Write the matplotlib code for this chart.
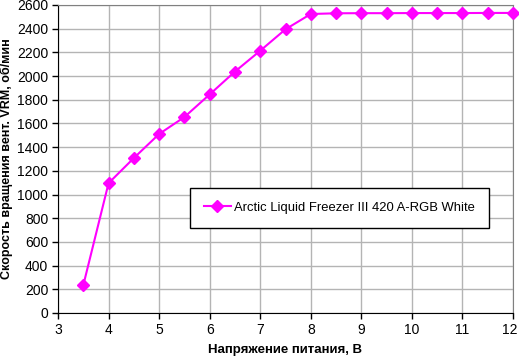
import matplotlib
matplotlib.use("Agg")
import matplotlib.pyplot as plt
import matplotlib.transforms as mtransforms

volts = [3.5, 4, 4.5, 5, 5.5, 6, 6.5, 7, 7.5, 8, 8.5, 9, 9.5, 10, 10.5, 11, 11.5, 12]
rpm = [234, 1096, 1308, 1511, 1654, 1845, 2038, 2214, 2395, 2524, 2530, 2531, 2531, 2532,
       2532, 2532, 2533, 2533]
series_name = "Arctic Liquid Freezer III 420 A-RGB White"
xticks = list(range(3, 13))
yticks = list(range(0, 2601, 200))

plt.rcParams['font.family'] = ['Liberation Sans', 'DejaVu Sans']

fig = plt.figure(figsize=(5.19, 3.57), dpi=100)
ax = fig.add_axes([58 / 519, 44 / 357, 455 / 519, 308 / 357])

ax.plot(volts, rpm, color='#ff00ff', lw=1.5, marker='D', ms=6,
        label=series_name, clip_on=False, zorder=3)

ax.set_xlim(3, 12)
ax.set_ylim(0, 2600)
ax.set_xticks(xticks)
ax.set_yticks(yticks)
ax.grid(True, color='#b4b4b4', lw=1)
ax.set_axisbelow(True)
ax.tick_params(direction='out', length=4, width=1, labelsize=10, colors='black', pad=3)
for side in ('top', 'right'):
    ax.spines[side].set_color('#808080')
for side in ('left', 'bottom'):
    ax.spines[side].set_color('black')

# nudge the last x label so it stays inside the image
last = ax.get_xticklabels()[-1]
last.set_transform(last.get_transform() +
                   mtransforms.ScaledTranslation(-3 / 100, 0, fig.dpi_scale_trans))

ax.set_xlabel('Напряжение питания, В', fontsize=9.5, fontweight='bold', labelpad=5)
ax.set_ylabel('Скорость вращения вент. VRM, об/мин', fontsize=9, fontweight='bold', labelpad=3)

leg = ax.legend(loc='upper left', bbox_to_anchor=((190 - 58) / 455, (313 - 188) / 308),
                fontsize=9.4, frameon=True, fancybox=False, borderpad=1.05,
                borderaxespad=0, handlelength=2.1, handletextpad=0.25, framealpha=1)
leg.get_frame().set_edgecolor('black')
leg.get_frame().set_linewidth(1)

fig.savefig('out.png', dpi=100)
